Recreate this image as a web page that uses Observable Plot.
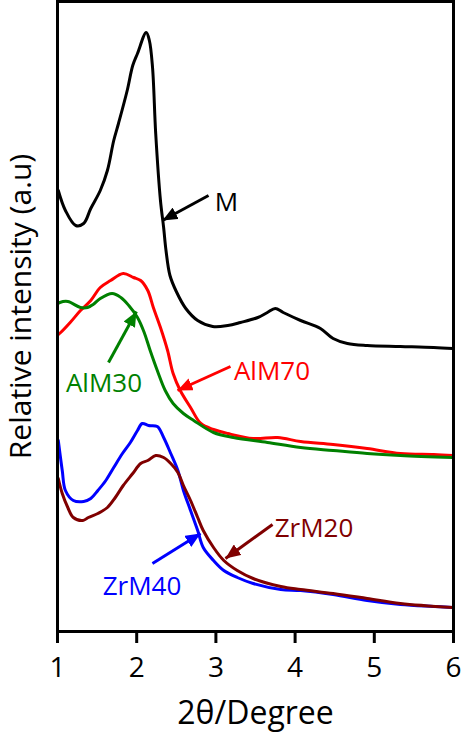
<!DOCTYPE html>
<html>
<head>
<meta charset="utf-8">
<script src="https://cdn.jsdelivr.net/npm/d3@7"></script>
<script src="https://cdn.jsdelivr.net/npm/@observablehq/plot@0.6"></script>
<style>
  html, body { margin: 0; padding: 0; background: #fff; }
  #chart svg { display: block; }
</style>
</head>
<body>
<div id="chart"></div>
<script>
// ---- Data (2θ in degrees, relative intensity in arbitrary units) ----
const M_x = [1.01,1.10,1.23,1.33,1.42,1.54,1.63,1.71,1.77,1.88,1.95,2.01,2.12,2.16,2.20,2.24,2.30,2.34,2.37,2.42,2.50,2.62,2.77,2.96,3.15,3.31,3.53,3.65,3.75,3.85,4.07,4.32,4.48,4.66,4.91,5.33,5.75,5.99];
const M_y = [441,421,406,408,423,441,461,491,508,541,566,578,599,591,564,498,431,404,381,356,340,323,311,305,306,309,314,319,323,319,311,303,293,288,286,285,284,283];

const AlM70_x = [1.01,1.04,1.16,1.29,1.42,1.54,1.67,1.83,1.96,2.05,2.14,2.21,2.30,2.39,2.46,2.55,2.68,2.81,2.97,3.15,3.47,3.78,4.07,4.48,4.91,5.33,5.75,5.99];
const AlM70_y = [297,299,309,321,331,344,351,358,354,351,341,324,304,281,258,241,224,208,202,198,193,194,190,187,183,178,177,176];

const AlM30_x = [1.01,1.03,1.13,1.29,1.38,1.45,1.54,1.69,1.80,1.90,2.01,2.09,2.17,2.26,2.36,2.46,2.59,2.72,2.97,3.22,3.65,4.07,4.48,4.91,5.33,5.99];
const AlM30_y = [328,329,330,324,324,327,333,338,334,326,314,300,281,261,241,228,218,211,199,194,189,184,181,178,176,174];

const ZrM40_x = [1.01,1.06,1.10,1.20,1.33,1.42,1.51,1.61,1.71,1.82,1.92,2.01,2.07,2.15,2.26,2.34,2.43,2.52,2.59,2.68,2.77,2.84,2.97,3.10,3.27,3.47,3.82,4.07,4.48,4.91,5.33,5.75,5.99];
const ZrM40_y = [191,161,141,131,130,133,141,151,164,178,189,201,208,206,205,194,178,161,141,121,101,84,71,61,54,48,42,41,37,31,27,25,24];

const ZrM20_x = [1.01,1.06,1.13,1.20,1.32,1.39,1.51,1.63,1.73,1.83,1.95,2.05,2.14,2.24,2.34,2.43,2.52,2.59,2.68,2.77,2.84,2.97,3.10,3.27,3.47,3.82,4.07,4.48,4.91,5.33,5.99];
const ZrM20_y = [153,138,124,114,111,114,118,124,134,146,158,168,171,176,174,168,159,146,131,114,101,84,71,61,53,45,42,38,33,28,24];

const seriesNames  = ["M", "AlM70", "AlM30", "ZrM40", "ZrM20"];
const seriesColors = ["#000000", "#ff0000", "#008000", "#0000ff", "#800000"];
const xTicks = [1, 2, 3, 4, 5, 6];

// Annotation labels (centre points) and arrows, in data coordinates
const labelText   = ["M", "AlM30", "AlM70", "ZrM20", "ZrM40"];
const labelX      = [3.134, 1.587, 3.708, 4.239, 2.067];
const labelY      = [429, 248, 260, 103, 45];
const arrowX1 = [2.907, 1.644, 3.184, 3.715, 2.199];
const arrowY1 = [436, 269, 265, 107, 68];
const arrowX2 = [2.326, 1.997, 2.515, 3.121, 2.806];
const arrowY2 = [411, 320, 241, 73, 98];

// ---- Build tables ----
const raw = {M: [M_x, M_y], AlM70: [AlM70_x, AlM70_y], AlM30: [AlM30_x, AlM30_y], ZrM40: [ZrM40_x, ZrM40_y], ZrM20: [ZrM20_x, ZrM20_y]};
const rows = [];
for (const name of seriesNames) {
  const [xs, ys] = raw[name];
  xs.forEach((x, i) => rows.push({series: name, x, y: ys[i]}));
}
const labels = labelText.map((t, i) => ({text: t, series: t, x: labelX[i], y: labelY[i]}));
const arrows = labelText.map((s, i) => ({series: s, x1: arrowX1[i], y1: arrowY1[i], x2: arrowX2[i], y2: arrowY2[i]}));

function filledArrow(color) {
  const ns = "http://www.w3.org/2000/svg";
  const m = document.createElementNS(ns, "marker");
  m.setAttribute("viewBox", "-15 -6.5 15 13");
  m.setAttribute("markerUnits", "userSpaceOnUse");
  m.setAttribute("markerWidth", 15);
  m.setAttribute("markerHeight", 13);
  m.setAttribute("refX", 0);
  m.setAttribute("refY", 0);
  m.setAttribute("orient", "auto");
  m.setAttribute("fill", color);
  m.setAttribute("stroke", "none");
  const p = document.createElementNS(ns, "path");
  p.setAttribute("d", "M-15,-6.5L0,0L-15,6.5Z");
  m.appendChild(p);
  return m;
}

const font = "'Open Sans', 'DejaVu Sans', sans-serif";
const col = d => seriesColors[seriesNames.indexOf(d.series)];

const chart = Plot.plot({
  width: 461,
  height: 737,
  marginLeft: 57,
  marginRight: 8,
  marginTop: 1,
  marginBottom: 106,
  style: {fontFamily: font, background: "#fff", color: "#000"},
  x: {domain: [1, 6]},
  y: {domain: [0, 630], axis: null},
  marks: [
    Plot.line(rows, {x: "x", y: "y", z: "series", stroke: col, strokeWidth: 3, curve: "catmull-rom", strokeLinejoin: "round"}),
    Plot.link(arrows, {x1: "x1", y1: "y1", x2: "x2", y2: "y2", stroke: col, strokeWidth: 3, markerEnd: filledArrow}),
    Plot.text(labels, {x: "x", y: "y", text: "text", fill: col, textAnchor: "middle", lineAnchor: "middle", fontSize: 26, fontFamily: font}),
    Plot.frame({stroke: "#000", strokeWidth: 3}),
    Plot.axisX({ticks: xTicks, tickFormat: d => String(d), tickSize: 12, strokeWidth: 3, tickPadding: 14, fontSize: 28, label: null}),
    Plot.text(["2θ/Degree"], {frameAnchor: "bottom", dy: 82, textAnchor: "middle", lineAnchor: "middle", fontSize: 32, fontFamily: font, fill: "#000"}),
    Plot.text(["Relative intensity (a.u)"], {frameAnchor: "left", dx: -36, dy: -10, rotate: -90, textAnchor: "middle", lineAnchor: "middle", fontSize: 30, fontFamily: font, fill: "#000"})
  ]
});
document.getElementById("chart").appendChild(chart);
</script>
</body>
</html>
